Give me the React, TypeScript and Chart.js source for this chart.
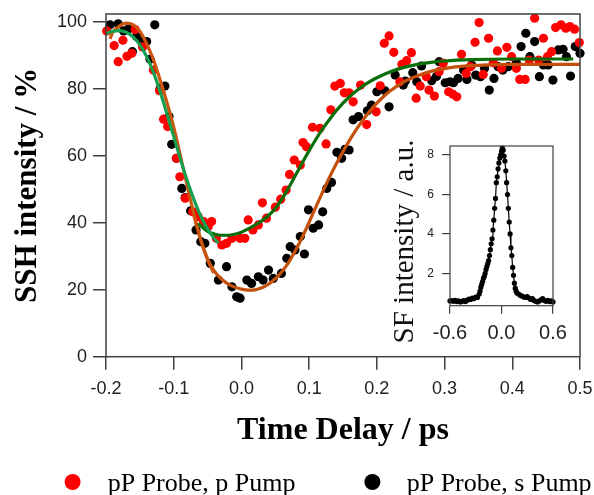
import React, { useEffect, useRef } from "react";
import { Chart, registerables } from "chart.js";
Chart.register(...registerables);

// ---------- main panel data ----------
const xTickValues = [-0.2, -0.1, 0, 0.1, 0.2, 0.3, 0.4, 0.5];
const yTickValues = [0, 20, 40, 60, 80, 100];

const pPumpLabel = "pP Probe, p Pump";
const sPumpLabel = "pP Probe, s Pump";

// measured points, p pump (red): [delay ps, SSH %]
const pPumpPoints: [number, number][] = [
  [-0.199, 97.4], [-0.188, 93.0], [-0.182, 88.2], [-0.175, 94.6], [-0.169, 89.8], [-0.162, 90.7],
  [-0.157, 97.8], [-0.146, 92.6], [-0.130, 85.7], [-0.121, 79.5], [-0.115, 71.0], [-0.109, 68.8],
  [-0.096, 59.3], [-0.091, 53.8], [-0.083, 47.4], [-0.072, 43.3], [-0.064, 41.9], [-0.056, 40.4],
  [-0.049, 38.9], [-0.044, 40.4], [-0.037, 35.4], [-0.029, 33.4], [-0.022, 33.9], [-0.014, 35.4],
  [-0.002, 35.4], [0.005, 35.4], [0.010, 40.9], [0.017, 37.9], [0.025, 39.4], [0.031, 46.0],
  [0.037, 41.4], [0.050, 44.7], [0.058, 47.1], [0.066, 49.8], [0.071, 54.5], [0.078, 58.8],
  [0.087, 57.3], [0.091, 64.0], [0.096, 62.8], [0.105, 68.6], [0.116, 68.3], [0.125, 63.6],
  [0.132, 73.8], [0.138, 80.9], [0.146, 81.7], [0.152, 78.9], [0.159, 78.9], [0.165, 76.2],
  [0.176, 81.2], [0.185, 69.4], [0.199, 73.2], [0.205, 81.0], [0.211, 93.7], [0.218, 95.9],
  [0.225, 91.0], [0.234, 82.2], [0.237, 87.4], [0.244, 88.5], [0.251, 90.9], [0.258, 77.3],
  [0.264, 80.9], [0.273, 83.7], [0.277, 79.7], [0.285, 77.9], [0.292, 85.2], [0.298, 87.7],
  [0.306, 79.2], [0.312, 78.5], [0.318, 77.7], [0.325, 90.4], [0.332, 84.7], [0.338, 86.7],
  [0.345, 94.0], [0.351, 99.9], [0.357, 84.4], [0.365, 95.2], [0.372, 87.9], [0.378, 91.4],
  [0.384, 86.2], [0.392, 92.5], [0.399, 89.7], [0.406, 86.2], [0.411, 82.9], [0.419, 82.9],
  [0.425, 88.7], [0.433, 101.2], [0.439, 88.7], [0.446, 95.2], [0.452, 89.7], [0.458, 91.2],
  [0.464, 98.4], [0.472, 99.2], [0.479, 98.2], [0.485, 98.7], [0.492, 97.9], [0.499, 93.9],
];

// measured points, s pump (black)
const sPumpPoints: [number, number][] = [
  [-0.194, 99.2], [-0.182, 99.5], [-0.174, 97.4], [-0.167, 98.0], [-0.161, 91.2], [-0.155, 95.7],
  [-0.147, 94.2], [-0.140, 94.2], [-0.135, 88.9], [-0.128, 99.2], [-0.120, 80.2], [-0.113, 80.9],
  [-0.107, 71.8], [-0.103, 63.5], [-0.096, 59.3], [-0.088, 50.3], [-0.083, 47.6], [-0.075, 43.6],
  [-0.067, 37.9], [-0.060, 34.4], [-0.054, 33.9], [-0.046, 27.9], [-0.034, 22.9], [-0.022, 26.9],
  [-0.014, 20.9], [-0.007, 17.9], [-0.002, 17.5], [0.008, 22.9], [0.015, 21.9], [0.025, 23.9],
  [0.032, 22.9], [0.040, 25.9], [0.047, 23.4], [0.059, 24.9], [0.067, 29.4], [0.072, 32.9],
  [0.079, 31.9], [0.087, 35.9], [0.093, 30.7], [0.099, 43.9], [0.106, 38.4], [0.114, 39.4],
  [0.120, 43.3], [0.126, 50.3], [0.133, 52.1], [0.141, 61.1], [0.148, 59.3], [0.153, 62.0],
  [0.159, 61.8], [0.165, 70.8], [0.173, 71.8], [0.186, 73.5], [0.192, 75.2], [0.200, 79.2],
  [0.212, 79.5], [0.218, 74.7], [0.227, 84.2], [0.239, 81.2], [0.242, 82.4], [0.253, 84.9],
  [0.259, 82.2], [0.266, 86.9], [0.281, 82.5], [0.288, 83.8], [0.292, 88.2], [0.301, 81.9],
  [0.308, 82.2], [0.313, 81.9], [0.320, 83.2], [0.328, 85.7], [0.333, 82.9], [0.340, 87.2],
  [0.346, 84.2], [0.353, 83.7], [0.359, 86.2], [0.366, 79.7], [0.373, 83.2], [0.379, 86.7],
  [0.386, 85.7], [0.394, 86.7], [0.406, 87.9], [0.413, 92.7], [0.420, 96.7], [0.426, 89.7],
  [0.433, 94.2], [0.440, 83.7], [0.446, 87.2], [0.453, 87.2], [0.460, 82.7], [0.468, 91.7],
  [0.475, 91.9], [0.480, 89.7], [0.486, 83.9], [0.493, 92.7], [0.500, 90.7],
];

// fitted curves
const pFitRise: [number, number][] = [
  [-0.2, 96.6], [-0.19, 97.3], [-0.18, 97.5], [-0.17, 97.0], [-0.16, 95.6], [-0.15, 93.2],
  [-0.14, 89.7], [-0.13, 85.0], [-0.12, 79.2], [-0.11, 72.6], [-0.1, 65.8], [-0.09, 59.0],
  [-0.08, 52.6], [-0.07, 46.9], [-0.06, 42.0], [-0.05, 38.2], [-0.04, 35.3], [-0.034, 33.9],
];
const pFitRecovery: [number, number][] = [
  [-0.064, 39.8], [-0.05, 37.5], [-0.04, 36.7], [-0.03, 36.3], [-0.02, 36.3], [-0.01, 36.6],
  [0, 37.2], [0.01, 38.2], [0.02, 39.3], [0.03, 40.6], [0.04, 42.2], [0.05, 44.3], [0.06, 47.2],
  [0.07, 50.6], [0.08, 54.3], [0.09, 58.0], [0.1, 61.6], [0.11, 65.0], [0.12, 68.1], [0.13, 70.9],
  [0.14, 73.5], [0.15, 75.8], [0.16, 77.8], [0.17, 79.5], [0.18, 81.0], [0.19, 82.3], [0.2, 83.4],
  [0.22, 85.2], [0.24, 86.5], [0.26, 87.4], [0.28, 88.0], [0.3, 88.4], [0.34, 88.8], [0.4, 89.0],
  [0.49, 89.0],
];
const sFitRise: [number, number][] = [
  [-0.194, 95.0], [-0.19, 97.0], [-0.18, 98.9], [-0.17, 99.7], [-0.16, 99.3], [-0.15, 97.3],
  [-0.14, 93.6], [-0.13, 88.8], [-0.12, 82.7], [-0.11, 76.0], [-0.1, 68.6], [-0.09, 60.0],
  [-0.08, 51.0], [-0.07, 42.5], [-0.06, 35.0], [-0.05, 29.0], [-0.041, 25.0],
];
const sFitRecovery: [number, number][] = [
  [-0.07, 42.0], [-0.06, 34.8], [-0.05, 29.2], [-0.04, 25.6], [-0.03, 23.3], [-0.02, 21.8],
  [-0.01, 20.8], [0, 20.2], [0.01, 19.9], [0.02, 20.0], [0.03, 20.6], [0.04, 21.7], [0.05, 23.3],
  [0.06, 25.5], [0.07, 28.3], [0.08, 31.8], [0.09, 35.8], [0.1, 40.2], [0.11, 44.8], [0.12, 49.3],
  [0.13, 53.6], [0.14, 57.6], [0.15, 61.3], [0.16, 64.8], [0.17, 68.0], [0.18, 70.9], [0.19, 73.5],
  [0.2, 75.8], [0.21, 77.8], [0.22, 79.5], [0.24, 82.2], [0.26, 84.0], [0.28, 85.3], [0.3, 86.1],
  [0.32, 86.7], [0.35, 87.1], [0.4, 87.4], [0.5, 87.4],
];

// ---------- inset data (cross-correlation) ----------
const insetXTicks = [-0.6, 0, 0.6];
const insetYTicks = [2, 4, 6, 8];
const sfDelay = [
  -0.6, -0.58, -0.56, -0.54, -0.52, -0.5, -0.48, -0.46, -0.44, -0.42, -0.4, -0.38, -0.36, -0.34,
  -0.32, -0.3, -0.28, -0.26, -0.25, -0.24, -0.23, -0.22, -0.21, -0.2, -0.19, -0.18, -0.17, -0.16,
  -0.15, -0.14, -0.13, -0.12, -0.11, -0.1, -0.09, -0.08, -0.07, -0.06, -0.05, -0.04, -0.03, -0.02,
  -0.01, 0, 0.01, 0.02, 0.03, 0.04, 0.05, 0.06, 0.07, 0.08, 0.09, 0.1, 0.11, 0.12, 0.13, 0.14, 0.15,
  0.16, 0.17, 0.18, 0.2, 0.22, 0.24, 0.26, 0.28, 0.3, 0.32, 0.34, 0.36, 0.38, 0.4, 0.42, 0.44, 0.46,
  0.48, 0.5, 0.52, 0.54, 0.56, 0.58, 0.6,
];
const sfIntensity = [
  0.6, 0.62, 0.58, 0.63, 0.57, 0.6, 0.55, 0.58, 0.62, 0.57, 0.64, 0.7, 0.68, 0.75,
  0.72, 0.8, 0.78, 0.95, 1.1, 1.3, 1.45, 1.6, 1.75, 1.85, 2.0, 2.2, 2.35, 2.5,
  2.65, 2.9, 3.2, 3.5, 3.75, 4.2, 4.7, 5.3, 5.8, 6.6, 6.9, 7.3, 7.6, 7.85,
  8.0, 8.2, 8.35, 8.25, 7.95, 7.7, 7.2, 6.6, 6.0, 5.3, 4.6, 4.0, 3.3, 2.9, 2.3, 1.9, 1.5,
  1.25, 1.1, 1.0, 0.95, 0.88, 0.85, 0.8, 0.78, 0.82, 0.75, 0.68, 0.72, 0.62, 0.58, 0.55, 0.6, 0.66,
  0.72, 0.62, 0.58, 0.63, 0.57, 0.6, 0.55,
];

const toXY = (arr: [number, number][]) => arr.map(([x, y]) => ({ x, y }));

const AXIS = "#404040";
const TICK_TEXT = "#222";

const frame = (lw: number) => ({
  id: "frame" + lw,
  afterDatasetsDraw(chart: any) {
    const { ctx, chartArea: a } = chart;
    ctx.save();
    ctx.strokeStyle = AXIS;
    ctx.lineWidth = lw;
    ctx.strokeRect(a.left, a.top, a.right - a.left, a.bottom - a.top);
    ctx.restore();
  },
});

const legendSlots = [
  { cx: 72.6, tx: 107.7 },
  { cx: 372.4, tx: 406.7 },
];

const customLegend = {
  id: "customLegend",
  afterDraw(chart: any) {
    const { ctx } = chart;
    const items = chart.data.datasets.filter((d: any) => d.inLegend);
    ctx.save();
    items.forEach((d: any, i: number) => {
      const s = legendSlots[i];
      ctx.beginPath();
      ctx.fillStyle = d.backgroundColor;
      ctx.arc(s.cx, 482, 8, 0, Math.PI * 2);
      ctx.fill();
      ctx.fillStyle = "#000";
      ctx.font = "26px 'Liberation Serif'";
      ctx.textAlign = "left";
      ctx.textBaseline = "alphabetic";
      ctx.fillText(d.label, s.tx, 491);
    });
    ctx.restore();
  },
};

const insetTitle = {
  id: "insetTitle",
  afterDraw(chart: any) {
    const { ctx, chartArea: a } = chart;
    ctx.save();
    ctx.translate(a.left - 36.7, a.top + 95.5);
    ctx.rotate(-Math.PI / 2);
    ctx.fillStyle = "#111";
    ctx.font = "29px 'Liberation Serif'";
    ctx.textAlign = "center";
    ctx.textBaseline = "alphabetic";
    ctx.fillText("SF intensity / a.u.", 0, 0);
    ctx.restore();
  },
};

const noHPad = (h: number) => (s: any) => {
  s.height = h;
  s.paddingLeft = 0;
  s.paddingRight = 0;
};
const noVPad = (w: number) => (s: any) => {
  s.width = w;
  s.paddingTop = 0;
  s.paddingBottom = 0;
};

export default function App() {
  const mainRef = useRef<HTMLCanvasElement>(null);
  const insetRef = useRef<HTMLCanvasElement>(null);

  useEffect(() => {
    const curve = (label: string, data: [number, number][], color: string) => ({
      label,
      data: toXY(data),
      showLine: true,
      borderColor: color,
      backgroundColor: color,
      borderWidth: 3.2,
      pointRadius: 0,
      cubicInterpolationMode: "monotone",
      order: 0,
      clip: false,
    });

    const main = new Chart(mainRef.current as HTMLCanvasElement, {
      type: "scatter",
      data: {
        datasets: [
          curve("fit p rise", pFitRise, "#15a050"),
          curve("fit p recovery", pFitRecovery, "#0a6e0a"),
          curve("fit s rise", sFitRise, "#cc5510"),
          curve("fit s recovery", sFitRecovery, "#c4500c"),
          {
            label: pPumpLabel,
            data: toXY(pPumpPoints),
            backgroundColor: "#ff0000",
            borderWidth: 0,
            pointRadius: 4.6,
            order: 1,
            clip: false,
            inLegend: true,
          } as any,
          {
            label: sPumpLabel,
            data: toXY(sPumpPoints),
            backgroundColor: "#000000",
            borderWidth: 0,
            pointRadius: 4.6,
            order: 2,
            clip: false,
            inLegend: true,
          } as any,
        ] as any,
      },
      options: {
        responsive: false,
        animation: false,
        events: [],
        layout: { padding: { left: 0, top: 14, right: 14, bottom: 44.8 } },
        plugins: { legend: { display: false }, tooltip: { enabled: false } },
        scales: {
          x: {
            type: "linear",
            min: -0.2,
            max: 0.5,
            afterBuildTicks: (s: any) => {
              s.ticks = xTickValues.map((v) => ({ value: v }));
            },
            afterFit: noHPad(93.5),
            grid: { drawOnChartArea: false, drawTicks: true, tickLength: 13, color: AXIS, lineWidth: 1.5 },
            border: { display: false },
            ticks: {
              color: TICK_TEXT,
              font: { family: "'Liberation Sans'", size: 18 },
              padding: 9,
              maxRotation: 0,
              autoSkip: false,
              callback: (v: any) => Number(v).toFixed(1),
            },
            title: {
              display: true,
              text: "Time Delay / ps",
              color: "#000",
              font: { family: "'Liberation Serif'", size: 32, weight: "bold" },
              padding: { top: 0, bottom: 0 },
            },
          },
          y: {
            type: "linear",
            min: 0,
            max: 102.45,
            afterBuildTicks: (s: any) => {
              s.ticks = yTickValues.map((v) => ({ value: v }));
            },
            afterFit: noVPad(106),
            grid: { drawOnChartArea: false, drawTicks: true, tickLength: 13, color: AXIS, lineWidth: 1.5 },
            border: { display: false },
            ticks: {
              color: TICK_TEXT,
              font: { family: "'Liberation Sans'", size: 18 },
              padding: 6,
              callback: (v: any) => String(v),
            },
            title: {
              display: true,
              text: "SSH intensity / %",
              color: "#000",
              font: { family: "'Liberation Serif'", size: 31, weight: "bold" },
              padding: { top: 9, bottom: 0 },
            },
          },
        },
      } as any,
      plugins: [frame(1.5), customLegend],
    });

    const inset = new Chart(insetRef.current as HTMLCanvasElement, {
      type: "scatter",
      data: {
        datasets: [
          {
            label: "SF",
            data: sfDelay.map((x, i) => ({ x, y: sfIntensity[i] })),
            showLine: true,
            borderColor: "#000",
            backgroundColor: "#000",
            borderWidth: 1.2,
            pointRadius: 2.6,
            pointBorderWidth: 0,
            clip: false,
          },
        ],
      },
      options: {
        responsive: false,
        animation: false,
        events: [],
        layout: { padding: { left: 0, top: 16, right: 27, bottom: 0 } },
        plugins: { legend: { display: false }, tooltip: { enabled: false } },
        scales: {
          x: {
            type: "linear",
            min: -0.6,
            max: 0.6,
            afterBuildTicks: (s: any) => {
              s.ticks = insetXTicks.map((v) => ({ value: v }));
            },
            afterFit: noHPad(54.3),
            grid: { drawOnChartArea: false, drawTicks: true, tickLength: 8, color: AXIS, lineWidth: 1.2 },
            border: { display: false },
            ticks: {
              color: TICK_TEXT,
              font: { family: "'Liberation Sans'", size: 20 },
              padding: 8,
              maxRotation: 0,
              autoSkip: false,
              callback: (v: any) => Number(v).toFixed(1),
            },
          },
          y: {
            type: "linear",
            min: 0.36,
            max: 8.46,
            afterBuildTicks: (s: any) => {
              s.ticks = insetYTicks.map((v) => ({ value: v }));
            },
            afterFit: noVPad(70),
            grid: { drawOnChartArea: false, drawTicks: true, tickLength: 8, color: AXIS, lineWidth: 1.2 },
            border: { display: false },
            ticks: {
              color: TICK_TEXT,
              font: { family: "'Liberation Sans'", size: 12 },
              padding: 8,
              callback: (v: any) => String(v),
            },
          },
        },
      } as any,
      plugins: [frame(1.2), insetTitle],
    });

    return () => {
      main.destroy();
      inset.destroy();
    };
  }, []);

  return (
    <div style={{ position: "absolute", left: 0, top: 0, width: 594, height: 495, background: "#fff" }}>
      <canvas ref={mainRef} width={594} height={495} style={{ position: "absolute", left: 0, top: 0, width: 594, height: 495 }} />
      <canvas ref={insetRef} width={200} height={230} style={{ position: "absolute", left: 380, top: 130, width: 200, height: 230 }} />
    </div>
  );
}
